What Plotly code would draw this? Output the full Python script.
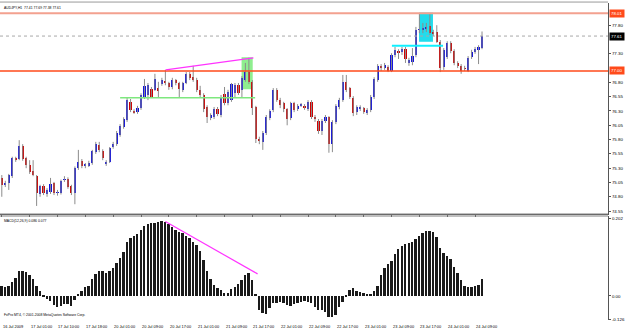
import plotly.graph_objects as go

# ---------------- data ----------------
opens = [75.13,75.01,75.04,75.16,75.47,75.46,75.69,75.48,75.36,75.25,
         75.16,74.85,74.99,74.85,74.88,75.04,74.87,74.87,75.10,75.11,
         74.99,74.87,75.30,75.43,75.34,75.34,75.39,75.58,75.71,75.60,
         75.37,75.41,75.67,75.72,75.88,76.02,76.14,76.46,76.29,76.28,
         76.35,76.54,76.58,76.68,76.67,76.70,76.77,76.81,76.79,76.72,
         76.84,76.79,76.67,76.79,76.95,76.89,76.84,76.67,76.58,76.37,
         76.18,76.19,76.33,76.23,76.60,76.44,76.49,76.61,76.75,76.67,
         76.84,76.98,76.81,76.37,75.81,75.76,75.92,76.18,76.32,76.67,
         76.49,76.44,76.33,76.18,76.44,76.33,76.40,76.39,76.33,76.46,
         76.19,76.12,75.95,76.12,76.19,75.72,76.11,76.37,76.49,76.81,
         76.70,76.53,76.28,76.35,76.35,76.26,76.32,76.54,76.84,77.09,
         77.05,77.07,77.00,77.28,77.35,77.33,77.38,77.14,77.16,77.28,
         77.72,77.71,77.73,77.79,77.68,77.68,77.51,77.07,77.24,77.49,
         77.35,77.14,77.09,77.05,77.00,77.24,77.33,77.37,77.41]
highs = [75.18,75.08,75.20,75.50,75.50,75.79,75.72,75.50,75.44,75.44,
         75.18,75.01,75.02,74.95,75.13,75.06,74.92,75.10,75.16,75.14,
         75.01,75.33,75.62,75.46,75.39,75.43,75.62,75.76,75.76,75.63,
         75.44,75.67,75.76,75.95,76.07,76.19,76.53,76.51,76.33,76.39,
         76.61,76.86,76.79,76.72,76.95,76.81,76.88,77.02,76.81,76.88,
         76.86,76.81,76.81,76.98,76.98,77.09,76.88,76.74,76.61,76.40,
         76.26,76.37,76.37,76.58,76.72,76.67,76.79,76.79,76.79,76.91,
         77.14,77.23,76.84,76.39,75.85,75.95,76.23,76.33,76.70,76.70,
         76.53,76.46,76.35,76.46,76.46,76.42,76.44,76.42,76.49,76.49,
         76.23,76.16,76.16,76.23,76.21,76.14,76.42,76.53,76.93,76.93,
         76.72,76.56,76.40,76.40,76.37,76.35,76.58,76.89,77.12,77.12,
         77.14,77.10,77.31,77.42,77.38,77.42,77.42,77.23,77.40,77.77,
         78.01,77.84,77.84,78.01,77.72,77.80,77.54,77.40,77.52,77.52,
         77.38,77.17,77.12,77.09,77.26,77.37,77.42,77.45,77.69]
lows = [74.80,74.97,74.92,75.13,75.41,75.44,75.43,75.30,75.20,75.16,
        74.64,74.80,74.83,74.80,74.85,74.83,74.82,74.84,75.06,74.94,
        74.83,74.67,75.27,75.30,75.30,75.32,75.36,75.55,75.58,75.44,
        75.34,75.39,75.64,75.69,75.85,75.99,76.11,76.28,76.25,76.25,
        76.32,76.51,76.49,76.53,76.65,76.53,76.74,76.75,76.67,76.68,
        76.75,76.53,76.63,76.77,76.84,76.81,76.63,76.54,76.28,76.09,
        76.14,76.16,76.21,76.19,76.40,76.40,76.46,76.53,76.58,76.53,
        76.81,76.77,76.23,75.74,75.72,75.62,75.88,76.14,76.28,76.46,
        76.35,76.28,76.05,76.14,76.28,76.30,76.37,76.32,76.30,76.16,
        76.11,75.90,75.88,76.09,75.57,75.58,76.07,76.33,76.46,76.63,
        76.51,76.21,76.23,76.30,76.25,76.23,76.28,76.51,76.81,77.00,
        77.02,76.98,76.98,77.24,77.21,77.28,77.14,77.09,77.10,77.24,
        77.66,77.66,77.68,77.63,77.61,77.49,76.98,77.02,77.21,77.31,
        77.10,77.05,76.95,77.00,76.98,77.21,77.30,77.12,77.38]
closes = [75.01,75.04,75.18,75.48,75.46,75.69,75.46,75.36,75.23,75.18,
          74.87,74.99,74.87,74.92,75.02,74.87,74.88,75.08,75.11,74.97,
          74.87,75.30,75.41,75.34,75.36,75.39,75.60,75.72,75.62,75.48,
          75.41,75.65,75.72,75.92,76.04,76.16,76.49,76.32,76.28,76.35,
          76.58,76.74,76.75,76.54,76.86,76.65,76.84,76.79,76.72,76.84,
          76.79,76.68,76.79,76.95,76.88,76.84,76.67,76.58,76.33,76.19,
          76.23,76.33,76.25,76.53,76.44,76.63,76.77,76.75,76.61,76.88,
          76.98,76.81,76.35,75.81,75.78,75.92,76.19,76.30,76.67,76.49,
          76.40,76.33,76.16,76.44,76.32,76.39,76.41,76.35,76.46,76.19,
          76.16,75.95,76.12,76.19,75.72,76.11,76.39,76.49,76.81,76.67,
          76.54,76.26,76.37,76.36,76.28,76.32,76.54,76.86,77.09,77.05,
          77.10,77.00,77.28,77.37,77.31,77.38,77.21,77.19,77.26,77.72,
          77.73,77.75,77.77,77.66,77.66,77.51,77.05,77.37,77.49,77.35,
          77.14,77.09,77.00,77.04,77.23,77.33,77.38,77.42,77.61]

macd = [0.026,0.024,0.026,0.037,0.047,0.066,0.066,0.063,0.055,0.045,
        0.026,0.013,-0.003,-0.008,-0.013,-0.024,-0.029,-0.026,-0.021,-0.021,
        -0.026,-0.010,0.005,0.013,0.024,0.026,0.045,0.058,0.066,0.066,
        0.060,0.066,0.073,0.086,0.100,0.115,0.141,0.152,0.157,0.162,
        0.173,0.183,0.189,0.191,0.191,0.194,0.197,0.194,0.189,0.181,
        0.173,0.168,0.165,0.157,0.152,0.141,0.134,0.118,0.094,0.066,
        0.045,0.029,0.021,0.016,0.008,0.008,0.018,0.024,0.031,0.042,
        0.055,0.060,0.042,0.003,-0.037,-0.045,-0.047,-0.031,-0.018,-0.018,
        -0.016,-0.018,-0.024,-0.026,-0.021,-0.018,-0.016,-0.013,-0.016,-0.018,
        -0.029,-0.037,-0.037,-0.042,-0.055,-0.055,-0.050,-0.029,-0.016,-0.003,
        0.016,0.021,0.013,0.010,0.008,0.005,0.003,0.013,0.026,0.055,
        0.073,0.084,0.092,0.110,0.123,0.131,0.136,0.139,0.141,0.149,
        0.157,0.165,0.170,0.170,0.168,0.155,0.126,0.113,0.105,0.097,
        0.076,0.060,0.042,0.026,0.024,0.024,0.026,0.029,0.045]

tick_idx = [0, 8, 16, 24, 32, 40, 48, 56, 64, 72, 80, 88, 96, 104, 112, 120, 128, 136]
tick_text = ["16 Jul 2009", "17 Jul 01:00", "17 Jul 10:00", "17 Jul 18:00",
             "20 Jul 01:00", "20 Jul 09:00", "20 Jul 17:00", "21 Jul 01:00",
             "21 Jul 09:00", "21 Jul 17:00", "22 Jul 01:00", "22 Jul 09:00",
             "22 Jul 17:00", "23 Jul 01:00", "23 Jul 09:00", "23 Jul 17:00",
             "24 Jul 01:00", "24 Jul 09:00"]
price_ticks = [74.55, 74.80, 75.05, 75.30, 75.55, 75.80, 76.05, 76.30,
               76.55, 76.80, 77.30, 77.80]
macd_ticks = [0.202, 0.0, -0.062]
macd_tick_text = ["0.202", "0.00", "-0.126"]

resist_hi = 78.01
support_lo = 77.00
bid = 77.61
green_level = 76.53
cyan_level = 77.44
title_txt = "AUDJPY,H1  77.41 77.69 77.38 77.61"
macd_txt = "MACD(12,26,9) 0.086 0.077"
footer_txt = "FxPro MT4, \u00a9 2001-2008 MetaQuotes Software Corp."

# ---------------- figure ----------------
n = len(closes)
idx = list(range(n))
FONT = "Liberation Sans"
SMALL = 3.9
fig = go.Figure()

# wicks
wx, wy = [], []
for i in idx:
    wx += [i, i, None]
    wy += [lows[i], highs[i], None]
fig.add_trace(go.Scatter(x=wx, y=wy, mode="lines",
                         line=dict(color="#8c8c8c", width=1),
                         hoverinfo="skip", showlegend=False))
# bodies
base = [min(o, c) for o, c in zip(opens, closes)]
hgt = [max(abs(c - o), 0.008) for o, c in zip(opens, closes)]
cols = ["#1010e0" if c >= o else "#d00000" for o, c in zip(opens, closes)]
fig.add_trace(go.Bar(x=idx, y=hgt, base=base, width=0.62,
                     marker=dict(color=cols, line=dict(width=0)),
                     showlegend=False))
# macd histogram
fig.add_trace(go.Bar(x=idx, y=macd, width=0.55, yaxis="y2",
                     marker=dict(color="#1a1a1a", line=dict(width=0)),
                     showlegend=False))

shapes = []
shapes.append(dict(type="rect", xref="x", yref="y", x0=68.9, x1=72.1, y0=76.68, y1=77.24,
                   fillcolor="#8fee8f", line=dict(width=0), layer="below"))
shapes.append(dict(type="rect", xref="x", yref="y", x0=119.9, x1=123.9, y0=77.51, y1=78.02,
                   fillcolor="#22dcec", line=dict(width=0), layer="below"))
shapes.append(dict(type="line", xref="paper", yref="y", x0=0, x1=1, y0=resist_hi, y1=resist_hi,
                   line=dict(color="#f3a18f", width=2)))
shapes.append(dict(type="line", xref="paper", yref="y", x0=0, x1=1, y0=support_lo, y1=support_lo,
                   line=dict(color="#ff4a1a", width=1.5)))
shapes.append(dict(type="line", xref="paper", yref="y", x0=0, x1=1, y0=bid, y1=bid,
                   line=dict(color="#a8a8a8", width=1, dash="dot")))
shapes.append(dict(type="line", xref="x", yref="y", x0=34, x1=72.8, y0=green_level, y1=green_level,
                   line=dict(color="#7ee87e", width=1.5)))
shapes.append(dict(type="line", xref="x", yref="y", x0=112.1, x1=126.8, y0=cyan_level, y1=cyan_level,
                   line=dict(color="#10f0ff", width=2)))
shapes.append(dict(type="line", xref="x", yref="y", x0=47.1, x1=72.3, y0=77.02, y1=77.23,
                   line=dict(color="#ff33ff", width=1.2)))
shapes.append(dict(type="line", xref="x", yref="y2", x0=47, x1=73.5, y0=0.195, y1=0.058,
                   line=dict(color="#ff33ff", width=1.2)))
MAIN_BOT = 106 / 317
MACD_TOP = 104 / 317
for yy in (MAIN_BOT, MACD_TOP):
    shapes.append(dict(type="line", xref="paper", yref="paper", x0=0, x1=1, y0=yy, y1=yy,
                       line=dict(color="#808080", width=1)))
shapes.append(dict(type="line", xref="paper", yref="paper", x0=0, x1=1, y0=1.003, y1=1.003,
                   line=dict(color="#9a9a9a", width=1)))

ann = []
ann.append(dict(text=title_txt, xref="paper", yref="paper", x=0.004, y=0.998,
                xanchor="left", yanchor="top", showarrow=False,
                font=dict(family=FONT, size=3.4, color="#000")))
ann.append(dict(text=macd_txt, xref="paper", yref="paper", x=0.004, y=MACD_TOP - 0.004,
                xanchor="left", yanchor="top", showarrow=False,
                font=dict(family=FONT, size=3.4, color="#000")))
ann.append(dict(text=footer_txt, xref="paper", yref="paper", x=0.004, y=0.002,
                xanchor="left", yanchor="bottom", showarrow=False,
                font=dict(family=FONT, size=3.4, color="#000")))
for ti, tt in zip(tick_idx, tick_text):
    ann.append(dict(text=tt, xref="x", yref="paper", x=ti, y=-0.006,
                    xanchor="left", yanchor="top", showarrow=False, xshift=-1,
                    font=dict(family=FONT, size=SMALL, color="#000")))
for val, bg in ((resist_hi, "#ff4a1a"), (support_lo, "#ff4a1a"), (bid, "#000000")):
    ann.append(dict(text="%.2f" % val, xref="paper", yref="y", x=1, y=val,
                    xanchor="left", yanchor="middle", showarrow=False, xshift=1,
                    bgcolor=bg, borderpad=1,
                    font=dict(family=FONT, size=4.4, color="#ffffff")))

fig.update_layout(
    width=625, height=330,
    margin=dict(l=0, r=17, t=3, b=10),
    paper_bgcolor="#ffffff", plot_bgcolor="#ffffff",
    bargap=0, barmode="overlay", showlegend=False,
    shapes=shapes, annotations=ann,
    xaxis=dict(range=[-0.52, 174.2], showgrid=False, zeroline=False,
               tickvals=tick_idx, ticktext=[""] * len(tick_idx),
               ticks="outside", ticklen=2, tickcolor="#555",
               showline=True, linecolor="#555", linewidth=1, fixedrange=True),
    yaxis=dict(domain=[MAIN_BOT, 1], range=[74.499, 78.188], side="right",
               showgrid=False, zeroline=False, tickvals=price_ticks,
               ticktext=["%.2f" % v for v in price_ticks],
               ticks="outside", ticklen=2, tickcolor="#555",
               tickfont=dict(family=FONT, size=4.4, color="#000"),
               showline=True, linecolor="#555", linewidth=1),
    yaxis2=dict(domain=[0, MACD_TOP], range=[-0.0629, 0.2096], side="right",
                anchor="x", showgrid=False, zeroline=False,
                tickvals=macd_ticks, ticktext=macd_tick_text,
                ticks="outside", ticklen=2, tickcolor="#555",
                tickfont=dict(family=FONT, size=4.4, color="#000"),
                showline=True, linecolor="#555", linewidth=1),
)
fig.write_html("out.html")
